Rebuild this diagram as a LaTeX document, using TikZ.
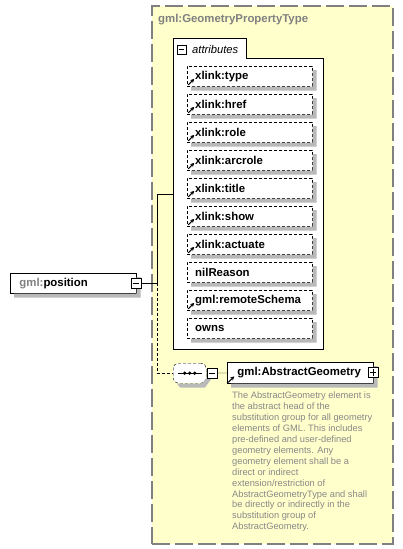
\documentclass[tikz,border=0pt]{standalone}
\usepackage{fontspec}
\setmainfont{Liberation Sans}
\usetikzlibrary{arrows.meta}
\definecolor{bgyellow}{RGB}{255,255,204}
\definecolor{framegray}{RGB}{128,128,128}
\definecolor{txtgray}{RGB}{128,128,128}
\definecolor{descgray}{RGB}{136,136,136}
\definecolor{shadowgray}{RGB}{185,185,185}
\begin{document}
\begin{tikzpicture}[x=1pt,y=-1pt,
  lbl/.style={font=\fontsize{11.4}{13}\selectfont\bfseries},
  shadowstrip/.style={fill=shadowgray, draw=none},
  dashbox/.style={dash pattern=on 3pt off 2pt},
  attr/.style={draw, dashbox, fill=white, anchor=north west,
    minimum width=125pt, text width=109pt, inner xsep=8pt, inner ysep=0pt, minimum height=20pt,
    align=left, lbl},
  refarrow/.style={line width=1pt, -{Stealth[length=4pt,width=4pt]}},
  btn/.style={draw, fill=white, minimum size=10pt, inner sep=0pt, line width=0.8pt},
  btnline/.style={line width=0.8pt},
]
\useasboundingbox (0,0) rectangle (402,549);

% outer complex type container
\node[draw=framegray, line width=1.5pt, dash pattern=on 18pt off 5pt, fill=bgyellow,
  anchor=north west, minimum width=241pt, minimum height=538pt, inner sep=0pt] (outer) at (151,5) {};
% attributes frame with tab
\draw[fill=white, line width=0.9pt] (173,349) -- (173,38) -- (246,38) -- (246,58) -- (323,58) -- (323,349) -- cycle;

\node[anchor=base west, inner sep=0pt, lbl, text=txtgray] (title) at (158,22) {gml:GeometryPropertyType};

\node[btn, minimum size=9pt] (tabbtn) at (181.5,49.5) {};
\draw[btnline] ([xshift=2pt]tabbtn.west) -- ([xshift=-2pt]tabbtn.east);
\node[anchor=base west, inner sep=0pt, font=\fontsize{11.2}{13}\selectfont\itshape] (tablbl) at (192,53) {attributes};
\coordinate (attrin) at (173,194);

% attributes
\node[attr] (a1) at (187,66) {xlink:type};
\node[attr] (a2) at (187,94) {xlink:href};
\node[attr] (a3) at (187,122) {xlink:role};
\node[attr] (a4) at (187,150) {xlink:arcrole};
\node[attr] (a5) at (187,178) {xlink:title};
\node[attr] (a6) at (187,206) {xlink:show};
\node[attr] (a7) at (187,234) {xlink:actuate};
\node[attr] (a8) at (187,262) {nilReason};
\node[attr] (a9) at (187,290) {gml:remoteSchema};
\node[attr] (a10) at (187,318) {owns};
\foreach \n in {a1,a2,a3,a4,a5,a6,a7,a9}
  \draw[refarrow] ([shift={(1.2pt,1.5pt)}]\n.south west) -- ++(6pt,6pt);

% gml:position element
\node[draw, fill=white, anchor=north west, text width=108pt, inner xsep=9pt,
  inner ysep=0pt, minimum height=20pt, align=left, lbl, line width=0.9pt] (pos) at (10,273)
  {\textcolor{txtgray}{gml:}position};

% sequence compositor
\node[draw, dashbox, rounded corners=5pt, fill=white, anchor=north west,
  minimum width=33pt, minimum height=20pt, inner sep=0pt] (seq) at (173,363) {};
\draw[line width=1.2pt] ([xshift=-12pt]seq.center) -- ([xshift=12pt]seq.center);
\fill ([xshift=-5pt]seq.center) circle (1.8pt) (seq.center) circle (1.8pt) ([xshift=5pt]seq.center) circle (1.8pt);

% gml:AbstractGeometry element
\node[draw, fill=white, anchor=north west, text width=126pt, inner xsep=10pt,
  inner ysep=0pt, minimum height=21pt, align=left, lbl, line width=0.9pt] (ag) at (227,362)
  {gml:AbstractGeometry};
\draw[refarrow] ([shift={(1.2pt,1.5pt)}]ag.south west) -- ++(6pt,6pt);

% shadows: L-shaped strips right of and below each box, 4px offset
\foreach \yy in {66,94,122,150,178,206,234,262,290,318}
  \fill[shadowstrip] (312.5,\yy+4) -- (316.5,\yy+4) -- (316.5,\yy+24.5) -- (191,\yy+24.5) -- (191,\yy+20.5) -- (312.5,\yy+20.5) -- cycle;
\fill[shadowstrip] (136.5,277) -- (140.5,277) -- (140.5,297.5) -- (14,297.5) -- (14,293.5) -- (136.5,293.5) -- cycle;
\fill[shadowstrip] (373.5,366) -- (377.5,366) -- (377.5,387.5) -- (231,387.5) -- (231,383.5) -- (373.5,383.5) -- cycle;
\fill[shadowstrip] (206.5,369) -- (210.5,369) -- (210.5,380) -- (205,387.5) -- (180,387.5) -- (177,383.5) -- (202,383.5) -- (206.5,378) -- cycle;

% buttons (on top of shadows)
\node[btn] (pm) at (136,283) {};
\draw[btnline] ([xshift=2pt]pm.west) -- ([xshift=-2pt]pm.east);
\node[btn] (sb) at (212,373) {};
\draw[btnline] ([xshift=2pt]sb.west) -- ([xshift=-2pt]sb.east);
\node[btn] (agp) at (373,372.5) {};
\draw[btnline] ([xshift=2pt]agp.west) -- ([xshift=-2pt]agp.east)
  ([yshift=-2pt]agp.north) -- ([yshift=2pt]agp.south);

% documentation
\node[anchor=north west, inner sep=0pt, align=left, font=\fontsize{9.3}{10.9}\selectfont, text=descgray] (desc) at (232,392)
{The AbstractGeometry element is\\
the abstract head of the\\
substitution group for all geometry\\
elements of GML. This includes\\
pre-defined and user-defined\\
geometry elements. Any\\
geometry element shall be a\\
direct or indirect\\
extension/restriction of\\
AbstractGeometryType and shall\\
be directly or indirectly in the\\
substitution group of\\
AbstractGeometry.};

% connectors
\coordinate (j) at (157,283);
\draw (pm.east) -- (j);
\draw (j) |- (attrin);
\draw[dashbox] (j) |- (seq.west);
\draw (seq.east) -- (sb.west);
\draw (sb.east) -- (ag.west);
\end{tikzpicture}
\end{document}
